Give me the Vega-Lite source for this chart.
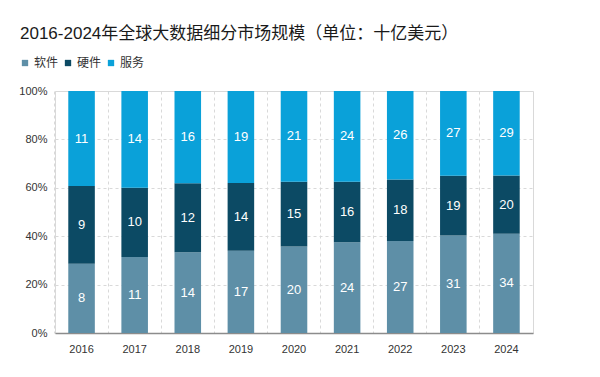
{
  "$schema": "https://vega.github.io/schema/vega-lite/v6.json",
  "width": 478,
  "height": 242,
  "autosize": {"type": "none"},
  "padding": {"left": 55, "top": 91, "right": 67, "bottom": 44},
  "background": "white",
  "title": {
    "text": "2016-2024年全球大数据细分市场规模（单位：十亿美元）",
    "anchor": "start",
    "frame": "group",
    "dx": -35,
    "offset": 1,
    "baseline": "alphabetic",
    "fontSize": 17,
    "fontWeight": "normal",
    "color": "#1a1a1a",
    "font": "Liberation Sans, Noto Sans CJK SC"
  },
  "config": {
    "view": {"stroke": "#d9d9d9"},
    "font": "Liberation Sans, Noto Sans CJK SC"
  },
  "resolve": {"axis": {"y": "independent"}},
  "data": {
    "values": [
      {"year": "2016", "type": "软件", "order": 1, "value": 8},
      {"year": "2016", "type": "硬件", "order": 2, "value": 9},
      {"year": "2016", "type": "服务", "order": 3, "value": 11},
      {"year": "2017", "type": "软件", "order": 1, "value": 11},
      {"year": "2017", "type": "硬件", "order": 2, "value": 10},
      {"year": "2017", "type": "服务", "order": 3, "value": 14},
      {"year": "2018", "type": "软件", "order": 1, "value": 14},
      {"year": "2018", "type": "硬件", "order": 2, "value": 12},
      {"year": "2018", "type": "服务", "order": 3, "value": 16},
      {"year": "2019", "type": "软件", "order": 1, "value": 17},
      {"year": "2019", "type": "硬件", "order": 2, "value": 14},
      {"year": "2019", "type": "服务", "order": 3, "value": 19},
      {"year": "2020", "type": "软件", "order": 1, "value": 20},
      {"year": "2020", "type": "硬件", "order": 2, "value": 15},
      {"year": "2020", "type": "服务", "order": 3, "value": 21},
      {"year": "2021", "type": "软件", "order": 1, "value": 24},
      {"year": "2021", "type": "硬件", "order": 2, "value": 16},
      {"year": "2021", "type": "服务", "order": 3, "value": 24},
      {"year": "2022", "type": "软件", "order": 1, "value": 27},
      {"year": "2022", "type": "硬件", "order": 2, "value": 18},
      {"year": "2022", "type": "服务", "order": 3, "value": 26},
      {"year": "2023", "type": "软件", "order": 1, "value": 31},
      {"year": "2023", "type": "硬件", "order": 2, "value": 19},
      {"year": "2023", "type": "服务", "order": 3, "value": 27},
      {"year": "2024", "type": "软件", "order": 1, "value": 34},
      {"year": "2024", "type": "硬件", "order": 2, "value": 20},
      {"year": "2024", "type": "服务", "order": 3, "value": 29}
    ]
  },
  "transform": [
    {"stack": "value", "groupby": ["year"], "sort": [{"field": "order", "order": "ascending"}], "offset": "normalize", "as": ["y0", "y1"]},
    {"calculate": "(datum.y0 + datum.y1) / 2", "as": "ymid"}
  ],
  "encoding": {
    "x": {
      "field": "year",
      "type": "ordinal",
      "title": null,
      "scale": {"paddingInner": 0.5, "paddingOuter": 0.25},
      "axis": {
        "labelAngle": 0,
        "labelFontSize": 11,
        "labelColor": "#333333",
        "labelPadding": 10,
        "ticks": false,
        "domain": true,
        "domainColor": "#8c8c8c",
        "domainWidth": 1.5,
        "grid": true,
        "gridDash": [3, 3],
        "gridColor": "#d9d9d9",
        "bandPosition": -0.5
      }
    }
  },
  "layer": [
    {
      "mark": {"type": "bar"},
      "encoding": {
        "y": {
          "field": "y0",
          "type": "quantitative",
          "title": null,
          "scale": {"domain": [0, 1], "nice": false},
          "axis": {
            "values": [0, 0.1, 0.2, 0.3, 0.4, 0.5, 0.6, 0.7, 0.8, 0.9, 1],
            "tickCount": 10,
            "format": ".0%",
            "labelFontSize": 11,
            "labelColor": "#333333",
            "labelPadding": 8,
            "labelOverlap": false,
            "ticks": false,
            "domain": false,
            "grid": true,
            "gridDash": [3, 3],
            "gridColor": "#d9d9d9"
          }
        },
        "y2": {"field": "y1"},
        "color": {
          "field": "type",
          "type": "nominal",
          "scale": {"domain": ["软件", "硬件", "服务"], "range": ["#5e8fa7", "#0c4a64", "#0aa1d9"]},
          "legend": {
            "title": null,
            "orient": "none",
            "direction": "horizontal",
            "legendX": -36,
            "legendY": -34,
            "symbolType": "square",
            "symbolSize": 40,
            "symbolStrokeWidth": 0,
            "labelFontSize": 12,
            "labelColor": "#333333",
            "labelOffset": 3,
            "columnPadding": 3
          }
        }
      }
    },
    {
      "mark": {"type": "text", "color": "white", "fontSize": 13, "baseline": "middle"},
      "encoding": {
        "y": {"field": "ymid", "type": "quantitative", "axis": null},
        "text": {"field": "value", "type": "quantitative"}
      }
    }
  ]
}
